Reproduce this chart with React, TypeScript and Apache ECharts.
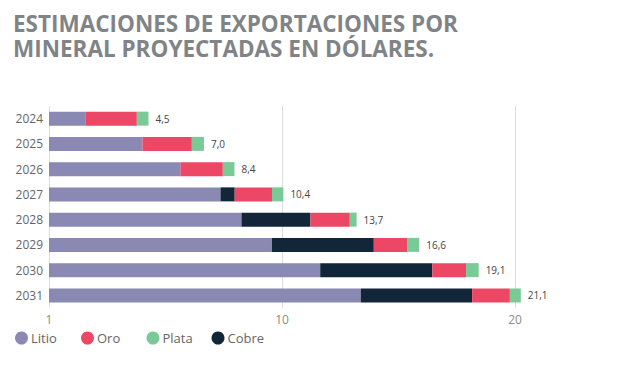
import React, { useEffect, useRef } from "react";
import * as echarts from "echarts";

const years = ["2024", "2025", "2026", "2027", "2028", "2029", "2030", "2031"];
const litio = [1.58, 4.01, 5.64, 7.36, 8.26, 9.57, 11.64, 13.38];
const cobre = [0, 0, 0, 0.61, 2.96, 4.37, 4.81, 4.78];
const oro = [2.19, 2.12, 1.82, 1.6, 1.69, 1.45, 1.45, 1.62];
const plata = [0.5, 0.52, 0.5, 0.49, 0.29, 0.5, 0.54, 0.47];
const totals = [4.5, 7.0, 8.4, 10.4, 13.7, 16.6, 19.1, 21.1];
const xTicks: Record<number, string> = { 0: "1", 10: "10", 20: "20" };
const titleLines = ["ESTIMACIONES DE EXPORTACIONES POR", "MINERAL PROYECTADAS EN DÓLARES."];

const colors = {
  Litio: "#8a89b4",
  Oro: "#ec4764",
  Plata: "#79ca97",
  Cobre: "#12263a",
};

export default function App() {
  const ref = useRef<HTMLDivElement>(null);
  useEffect(() => {
    if (!ref.current) return;
    const chart = echarts.init(ref.current, undefined, { renderer: "svg" });
    const legendBase = {
      top: 331.5,
      padding: 0,
      icon: "circle",
      itemWidth: 13,
      itemHeight: 13,
      itemGap: 0,
      textStyle: { color: "#666", fontSize: 13, fontFamily: "Open Sans", padding: [0, 0, 0, -2] },
    };
    const titleStyle = {
      color: "#808487",
      fontSize: 22.5,
      fontWeight: "bold",
      fontFamily: "Open Sans",
    };
    const mkSeries = (name: string, data: number[], extra: any = {}) => ({
      name,
      type: "bar",
      stack: "total",
      data,
      barWidth: 14,
      clip: false,
      itemStyle: { color: (colors as any)[name] },
      ...extra,
    });
    chart.setOption({
      animation: false,
      backgroundColor: "#fff",
      title: [
        { text: titleLines[0], left: 13, top: 12, padding: 0, textStyle: titleStyle },
        { text: titleLines[1], left: 13, top: 37, padding: 0, textStyle: titleStyle },
      ],
      legend: [
        { ...legendBase, left: 15, data: ["Litio"] },
        { ...legendBase, left: 81, data: ["Oro"] },
        { ...legendBase, left: 146.5, data: ["Plata"] },
        { ...legendBase, left: 211.5, data: ["Cobre"] },
      ],
      grid: { left: 49, right: 102, top: 106, height: 202, containLabel: false },
      xAxis: {
        type: "value",
        min: 0,
        max: 20,
        interval: 10,
        axisLine: { show: false },
        axisTick: { show: false },
        splitLine: { show: true, lineStyle: { color: "#dcdcdc", width: 1 } },
        axisLabel: {
          color: "#8a8a8a",
          fontSize: 12,
          fontFamily: "Open Sans",
          margin: 5,
          formatter: (v: number) => xTicks[v] ?? String(v),
        },
      },
      yAxis: {
        type: "category",
        data: years,
        inverse: true,
        axisLine: { show: false },
        axisTick: { show: false },
        axisLabel: { color: "#666", fontSize: 12, fontFamily: "Open Sans", margin: 6 },
      },
      series: [
        mkSeries("Litio", litio),
        mkSeries("Cobre", cobre),
        mkSeries("Oro", oro),
        mkSeries("Plata", plata, {
          label: {
            show: true,
            position: "right",
            distance: 7,
            color: "#444",
            fontSize: 10,
            fontFamily: "Open Sans",
            formatter: (p: any) => totals[p.dataIndex].toFixed(1).replace(".", ","),
          },
        }),
      ],
    });
    return () => chart.dispose();
  }, []);
  return (
    <div
      ref={ref}
      style={{ position: "fixed", left: 0, top: 0, width: 617, height: 383, background: "#fff" }}
    />
  );
}
